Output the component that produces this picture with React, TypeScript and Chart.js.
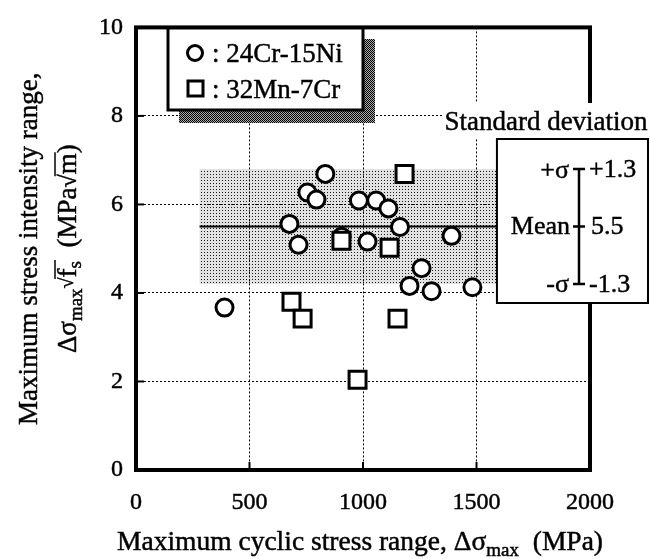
import React, { useEffect, useRef } from 'react';
import { Chart, registerables } from 'chart.js';

Chart.register(...registerables);

// ---------- data ----------
const seriesNames = ['24Cr-15Ni', '32Mn-7Cr'];
const crNiX = [390, 676, 716, 755, 795, 834, 906, 982, 1020, 1058, 1112, 1163, 1205, 1258, 1302, 1390, 1482];
const crNiY = [3.67, 5.56, 5.09, 6.27, 6.11, 6.69, 5.27, 6.09, 5.16, 6.09, 5.91, 5.49, 4.16, 4.56, 4.04, 5.29, 4.13];
const mnCrX = [905, 1117, 1183, 685, 734, 1152, 976];
const mnCrY = [5.18, 5.02, 6.69, 3.8, 3.42, 3.42, 2.04];
const xTicks = [0, 500, 1000, 1500, 2000];
const yTicks = [0, 2, 4, 6, 8, 10];
const meanValue = 5.5;
const sdValue = 1.3;
const bandXRange = [280, 1590];

const FONT = '"Liberation Serif", "Times New Roman", serif';
const STROKE = 0.45;

type Part = { t: string; s: number; dy?: number; ovStart?: boolean; ovEnd?: boolean };

function txt(ctx: CanvasRenderingContext2D, t: string, x: number, y: number) {
  ctx.fillText(t, x, y);
  ctx.save();
  ctx.lineWidth = STROKE;
  ctx.strokeStyle = '#000';
  ctx.strokeText(t, x, y);
  ctx.restore();
}

function drawRich(ctx: CanvasRenderingContext2D, parts: Part[], cx: number, cy: number, rotate: boolean) {
  ctx.save();
  ctx.translate(cx, cy);
  if (rotate) ctx.rotate(-Math.PI / 2);
  ctx.textBaseline = 'alphabetic';
  ctx.textAlign = 'left';
  ctx.fillStyle = '#000';
  const widths = parts.map((p) => {
    ctx.font = `${p.s}px ${FONT}`;
    return ctx.measureText(p.t).width;
  });
  const total = widths.reduce((a, b) => a + b, 0);
  let x = -total / 2;
  let ovX: number | null = null;
  parts.forEach((p, i) => {
    ctx.font = `${p.s}px ${FONT}`;
    txt(ctx, p.t, x, p.dy || 0);
    if (p.ovStart) ovX = x + widths[i] * 0.85;
    x += widths[i];
    if (p.ovEnd && ovX !== null) {
      ctx.strokeStyle = '#000';
      ctx.lineWidth = 1.5;
      ctx.beginPath();
      ctx.moveTo(ovX, -21);
      ctx.lineTo(x + 1, -21);
      ctx.stroke();
      ovX = null;
    }
  });
  ctx.restore();
}

function makePattern(ctx: CanvasRenderingContext2D, size: number, bg: string, fg: string, pts: number[][]) {
  const c = document.createElement('canvas');
  c.width = size;
  c.height = size;
  const g = c.getContext('2d')!;
  g.fillStyle = bg;
  g.fillRect(0, 0, size, size);
  g.fillStyle = fg;
  pts.forEach(([px, py]) => g.fillRect(px, py, 1, 1));
  return ctx.createPattern(c, 'repeat')!;
}

const decorPlugin = {
  id: 'decor',
  beforeDraw(chart: any) {
    const { ctx, scales } = chart;
    const xs = scales.x;
    const ys = scales.y;
    ctx.save();
    ctx.fillStyle = '#fff';
    ctx.fillRect(0, 0, chart.width, chart.height);
    const x0 = xs.getPixelForValue(bandXRange[0]);
    const x1 = xs.getPixelForValue(bandXRange[1]);
    const yTop = ys.getPixelForValue(meanValue + sdValue);
    const yBot = ys.getPixelForValue(meanValue - sdValue);
    ctx.fillStyle = makePattern(ctx, 3, '#e2e2e2', '#1a1a1a', [[0, 0]]);
    ctx.fillRect(x0, yTop, x1 - x0, yBot - yTop);
    ctx.restore();
  },
  beforeDatasetsDraw(chart: any) {
    const { ctx, scales } = chart;
    const xs = scales.x;
    const ys = scales.y;
    ctx.save();
    const x0 = xs.getPixelForValue(bandXRange[0]);
    const x1 = xs.getPixelForValue(bandXRange[1]);
    const ym = ys.getPixelForValue(meanValue);
    ctx.strokeStyle = '#000';
    ctx.lineWidth = 2;
    ctx.beginPath();
    ctx.moveTo(x0, ym);
    ctx.lineTo(x1, ym);
    ctx.stroke();
    ctx.restore();
  },
  afterDraw(chart: any) {
    const { ctx, scales, chartArea } = chart;
    const xs = scales.x;
    const ys = scales.y;
    const { left, right, top, bottom } = chartArea;
    ctx.save();
    // inward ticks
    ctx.strokeStyle = '#000';
    ctx.lineWidth = 2;
    xTicks.forEach((v) => {
      const px = xs.getPixelForValue(v);
      ctx.beginPath();
      ctx.moveTo(px, bottom);
      ctx.lineTo(px, bottom - 8);
      ctx.stroke();
    });
    yTicks.forEach((v) => {
      const py = ys.getPixelForValue(v);
      ctx.beginPath();
      ctx.moveTo(left, py);
      ctx.lineTo(left + 8, py);
      ctx.stroke();
    });
    // frame
    ctx.lineWidth = 4;
    ctx.strokeRect(left, top, right - left, bottom - top);

    // legend with shadow
    const lx = 168, ly = 28, lw = 195, lh = 82;
    ctx.fillStyle = makePattern(ctx, 2, '#aaa', '#000', [[0, 0], [1, 1]]);
    ctx.fillRect(lx + 11, ly + 11, lw + 1, lh + 2);
    ctx.fillStyle = '#fff';
    ctx.fillRect(lx, ly, lw, lh);
    ctx.lineWidth = 3;
    ctx.strokeStyle = '#000';
    ctx.strokeRect(lx, ly, lw, lh);
    ctx.lineWidth = 3;
    ctx.beginPath();
    ctx.arc(195, 53, 7.5, 0, Math.PI * 2);
    ctx.stroke();
    ctx.strokeRect(188, 81, 15, 15);
    ctx.fillStyle = '#000';
    ctx.font = `27px ${FONT}`;
    ctx.textAlign = 'left';
    ctx.textBaseline = 'alphabetic';
    txt(ctx, ': ' + seriesNames[0], 212, 62);
    txt(ctx, ': ' + seriesNames[1], 212, 98);

    // standard deviation box
    const bx = xs.getPixelForValue(bandXRange[1]);
    const byTop = 139;
    const byBot = 303;
    const bRight = chart.width - 2;
    ctx.font = `27px ${FONT}`;
    const title = 'Standard deviation';
    const tw = ctx.measureText(title).width;
    const tcx = 546;
    ctx.fillStyle = '#fff';
    ctx.fillRect(tcx - tw / 2 - 2, byTop - 36, tw + 4, 36);
    ctx.fillRect(bx, byTop, bRight - bx, byBot - byTop);
    ctx.strokeStyle = '#000';
    ctx.lineWidth = 2;
    ctx.strokeRect(bx, byTop, bRight - bx, byBot - byTop);
    ctx.fillStyle = '#000';
    ctx.textAlign = 'center';
    txt(ctx, title, tcx, byTop - 9);

    const ex = 579;
    const eTop = ys.getPixelForValue(meanValue + sdValue);
    const eMid = ys.getPixelForValue(meanValue);
    const eBot = ys.getPixelForValue(meanValue - sdValue);
    ctx.lineWidth = 2.5;
    ctx.beginPath();
    ctx.moveTo(ex, eTop);
    ctx.lineTo(ex, eBot);
    ctx.moveTo(ex - 6, eTop);
    ctx.lineTo(ex + 6, eTop);
    ctx.moveTo(ex - 6, eBot);
    ctx.lineTo(ex + 6, eBot);
    ctx.moveTo(ex - 6, eMid);
    ctx.lineTo(ex + 6, eMid);
    ctx.stroke();
    ctx.font = `26px ${FONT}`;
    ctx.textBaseline = 'middle';
    ctx.textAlign = 'right';
    txt(ctx, '+σ', ex - 10, eTop + 2);
    txt(ctx, 'Mean', ex - 9, eMid + 1);
    txt(ctx, '-σ', ex - 10, eBot + 1);
    ctx.textAlign = 'left';
    txt(ctx, '+' + sdValue.toFixed(1), ex + 10, eTop + 1);
    txt(ctx, meanValue.toFixed(1), ex + 12, eMid + 1);
    txt(ctx, '-' + sdValue.toFixed(1), ex + 10, eBot + 1);

    // axis titles
    ctx.fillStyle = '#000';
    drawRich(
      ctx,
      [
        { t: 'Maximum cyclic stress range, Δσ', s: 27.5 },
        { t: 'max', s: 19, dy: 6 },
        { t: '  (MPa)', s: 27.5 },
      ],
      (left + right) / 2 - 3,
      550,
      false
    );
    drawRich(ctx, [{ t: 'Maximum stress intensity range,', s: 27 }], 37, (top + bottom) / 2, true);
    drawRich(
      ctx,
      [
        { t: 'Δσ', s: 27 },
        { t: 'max', s: 19, dy: 6 },
        { t: '√', s: 20, dy: -3, ovStart: true },
        { t: 'f', s: 27 },
        { t: 's', s: 19, dy: 5, ovEnd: true },
        { t: '  (MPa', s: 27 },
        { t: '√', s: 24, ovStart: true },
        { t: 'm', s: 27, ovEnd: true },
        { t: ')', s: 27 },
      ],
      76,
      (top + bottom) / 2,
      true
    );
    ctx.restore();
  },
};

export default function App() {
  const ref = useRef<HTMLCanvasElement | null>(null);
  useEffect(() => {
    if (!ref.current) return;
    const chart = new Chart(ref.current, {
      type: 'scatter',
      data: {
        datasets: [
          {
            label: seriesNames[1],
            data: mnCrX.map((x, i) => ({ x, y: mnCrY[i] })),
            pointStyle: 'rect',
            pointRadius: 12,
            pointBorderWidth: 3,
            pointBackgroundColor: '#fff',
            pointBorderColor: '#000',
            order: 0,
          },
          {
            label: seriesNames[0],
            data: crNiX.map((x, i) => ({ x, y: crNiY[i] })),
            pointStyle: 'circle',
            pointRadius: 8.5,
            pointBorderWidth: 3,
            pointBackgroundColor: '#fff',
            pointBorderColor: '#000',
            order: 1,
          },
        ],
      },
      options: {
        animation: false,
        responsive: false,
        events: [],
        layout: { padding: { top: 20, right: 60, left: 0, bottom: 0 } },
        plugins: { legend: { display: false }, tooltip: { enabled: false } },
        scales: {
          x: {
            type: 'linear',
            min: 0,
            max: 2000,
            afterFit: (s: any) => {
              s.height = 89;
            },
            afterBuildTicks: (s: any) => {
              s.ticks = xTicks.map((v) => ({ value: v }));
            },
            ticks: {
              color: '#000',
              font: { family: FONT, size: 24 },
              padding: 18,
              maxRotation: 0,
              textStrokeColor: '#000',
              textStrokeWidth: STROKE,
              callback: (v: any) => String(v),
            },
            grid: { color: '#000', lineWidth: 1, drawTicks: false },
            border: { display: false, dash: [2, 2] },
          },
          y: {
            type: 'linear',
            min: 0,
            max: 10,
            afterFit: (s: any) => {
              s.width = 136;
            },
            afterBuildTicks: (s: any) => {
              s.ticks = yTicks.map((v) => ({ value: v }));
            },
            ticks: {
              color: '#000',
              font: { family: FONT, size: 24 },
              padding: 13,
              textStrokeColor: '#000',
              textStrokeWidth: STROKE,
              callback: (v: any) => String(v),
            },
            grid: { color: '#000', lineWidth: 1, drawTicks: false },
            border: { display: false, dash: [2, 2] },
          },
        },
      },
      plugins: [decorPlugin],
    });
    return () => chart.destroy();
  }, []);
  return (
    <div style={{ position: 'fixed', left: 0, top: 0, width: 650, height: 559, background: '#fff' }}>
      <canvas ref={ref} width={650} height={559} style={{ width: 650, height: 559, display: 'block' }} />
    </div>
  );
}
